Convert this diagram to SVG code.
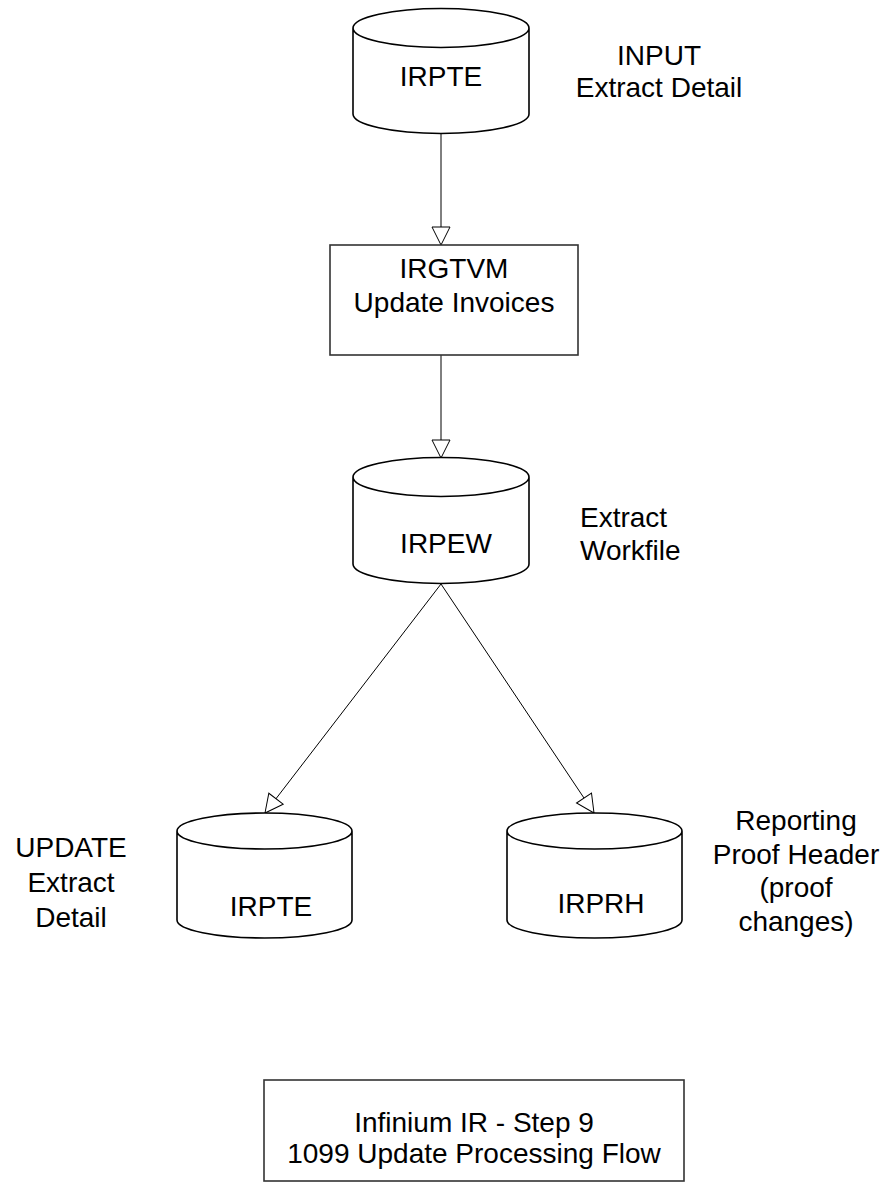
<svg xmlns="http://www.w3.org/2000/svg" width="890" height="1183" viewBox="0 0 890 1183">
<style>
text{font-family:"Liberation Sans",Arial,sans-serif;font-size:28px;fill:#000}
.c{text-anchor:middle}
.cyl{fill:#fff;stroke:#000;stroke-width:1.6}
.box{fill:#fff;stroke:#333;stroke-width:1.6}
.conn{stroke:#000;stroke-width:1;fill:none;marker-end:url(#tri)}
</style>
<defs>
<marker id="tri" markerUnits="userSpaceOnUse" viewBox="0 0 18 18" markerWidth="18" markerHeight="18" refX="18" refY="9" orient="auto" overflow="visible">
<path d="M0,0 L18,9 L0,18 Z" fill="#fff" stroke="#000" stroke-width="1"/>
</marker>
</defs>
<rect width="890" height="1183" fill="#fff"/>
<g id="connectors">
<line class="conn" x1="441" y1="133" x2="441" y2="245"/>
<line class="conn" x1="441" y1="355" x2="441" y2="458"/>
<line class="conn" x1="441" y1="584" x2="265" y2="813"/>
<line class="conn" x1="441" y1="584" x2="594" y2="813"/>
</g>
<g id="irpte-input">
<path class="cyl" d="M353,28 A88,19.5 0 0 1 529,28 A88,19.5 0 0 1 353,28 L353,114 A88,19.5 0 0 0 529,114 L529,28"/>
<text class="c" x="441" y="86">IRPTE</text>
</g>
<g id="label-input">
<text class="c" x="659" y="65">INPUT</text>
<text class="c" x="659" y="97">Extract Detail</text>
</g>
<g id="irgtvm">
<rect class="box" x="330" y="245" width="248" height="110"/>
<text class="c" x="454" y="278">IRGTVM</text>
<text class="c" x="454" y="312">Update Invoices</text>
</g>
<g id="irpew">
<path class="cyl" d="M353,477 A88,19.5 0 0 1 529,477 A88,19.5 0 0 1 353,477 L353,564 A88,19.5 0 0 0 529,564 L529,477"/>
<text class="c" x="446" y="553">IRPEW</text>
</g>
<g id="label-workfile">
<text x="580" y="527">Extract</text>
<text x="580" y="560">Workfile</text>
</g>
<g id="irpte-update">
<path class="cyl" d="M177,831 A87.5,18 0 0 1 352,831 A87.5,18 0 0 1 177,831 L177,920 A87.5,18 0 0 0 352,920 L352,831"/>
<text class="c" x="271" y="916">IRPTE</text>
</g>
<g id="label-update">
<text class="c" x="71" y="857">UPDATE</text>
<text class="c" x="71" y="892">Extract</text>
<text class="c" x="71" y="927">Detail</text>
</g>
<g id="irprh">
<path class="cyl" d="M507,831 A87.5,18 0 0 1 682,831 A87.5,18 0 0 1 507,831 L507,920 A87.5,18 0 0 0 682,920 L682,831"/>
<text class="c" x="601" y="913">IRPRH</text>
</g>
<g id="label-reporting">
<text class="c" x="796" y="830">Reporting</text>
<text class="c" x="796" y="864">Proof Header</text>
<text class="c" x="796" y="897">(proof</text>
<text class="c" x="796" y="931">changes)</text>
</g>
<g id="title">
<rect class="box" x="264" y="1080" width="420" height="101"/>
<text class="c" x="474" y="1132">Infinium IR - Step 9</text>
<text class="c" x="474" y="1163">1099 Update Processing Flow</text>
</g>
</svg>
